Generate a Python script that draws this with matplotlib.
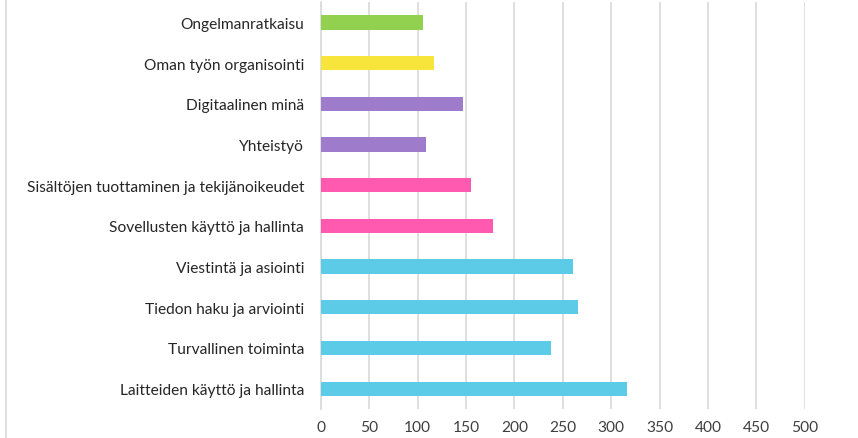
import matplotlib.pyplot as plt
from matplotlib.lines import Line2D

# categories listed bottom to top, as drawn
categories = [
    'Laitteiden käyttö ja hallinta',
    'Turvallinen toiminta',
    'Tiedon haku ja arviointi',
    'Viestintä ja asiointi',
    'Sovellusten käyttö ja hallinta',
    'Sisältöjen tuottaminen ja tekijänoikeudet',
    'Yhteistyö',
    'Digitaalinen minä',
    'Oman työn organisointi',
    'Ongelmanratkaisu',
]
values = [316, 238, 266, 261, 178, 155, 109, 147, 117, 106]
bar_colors = ['#5BCBE8', '#5BCBE8', '#5BCBE8', '#5BCBE8',
              '#FF5AB0', '#FF5AB0', '#9E7BCB', '#9E7BCB',
              '#F7E53B', '#92D050']
x_ticks = list(range(0, 501, 50))

plt.rcParams['font.family'] = ['Lato', 'DejaVu Sans']

fig = plt.figure(figsize=(8.58, 4.39), dpi=100)
ax = fig.add_axes([0.374, 0.066, 0.564, 0.927])

ax.barh(range(len(categories)), values, height=0.35, color=bar_colors,
        zorder=3)

ax.set_xlim(0, 500)
ax.set_ylim(-0.5, len(categories) - 0.5)
ax.set_xticks(x_ticks)
ax.set_yticks(range(len(categories)))
ax.set_yticklabels(categories, fontsize=11.2, color='#262626')
ax.tick_params(axis='x', labelsize=11.2, labelcolor='#404040', pad=8, length=0)
ax.tick_params(axis='y', length=0, pad=12)

ax.grid(axis='x', color='#D9D9D9', linewidth=1.2, zorder=0)
for side in ['top', 'right', 'bottom']:
    ax.spines[side].set_visible(False)
ax.spines['left'].set_color('#D9D9D9')
ax.spines['left'].set_linewidth(1.2)

# outer chart frame edge visible at the left
fig.add_artist(Line2D([6 / 858, 6 / 858], [0, 1], transform=fig.transFigure,
                      color='#D9D9D9', linewidth=1.2))

plt.savefig('out.png', dpi=100)
